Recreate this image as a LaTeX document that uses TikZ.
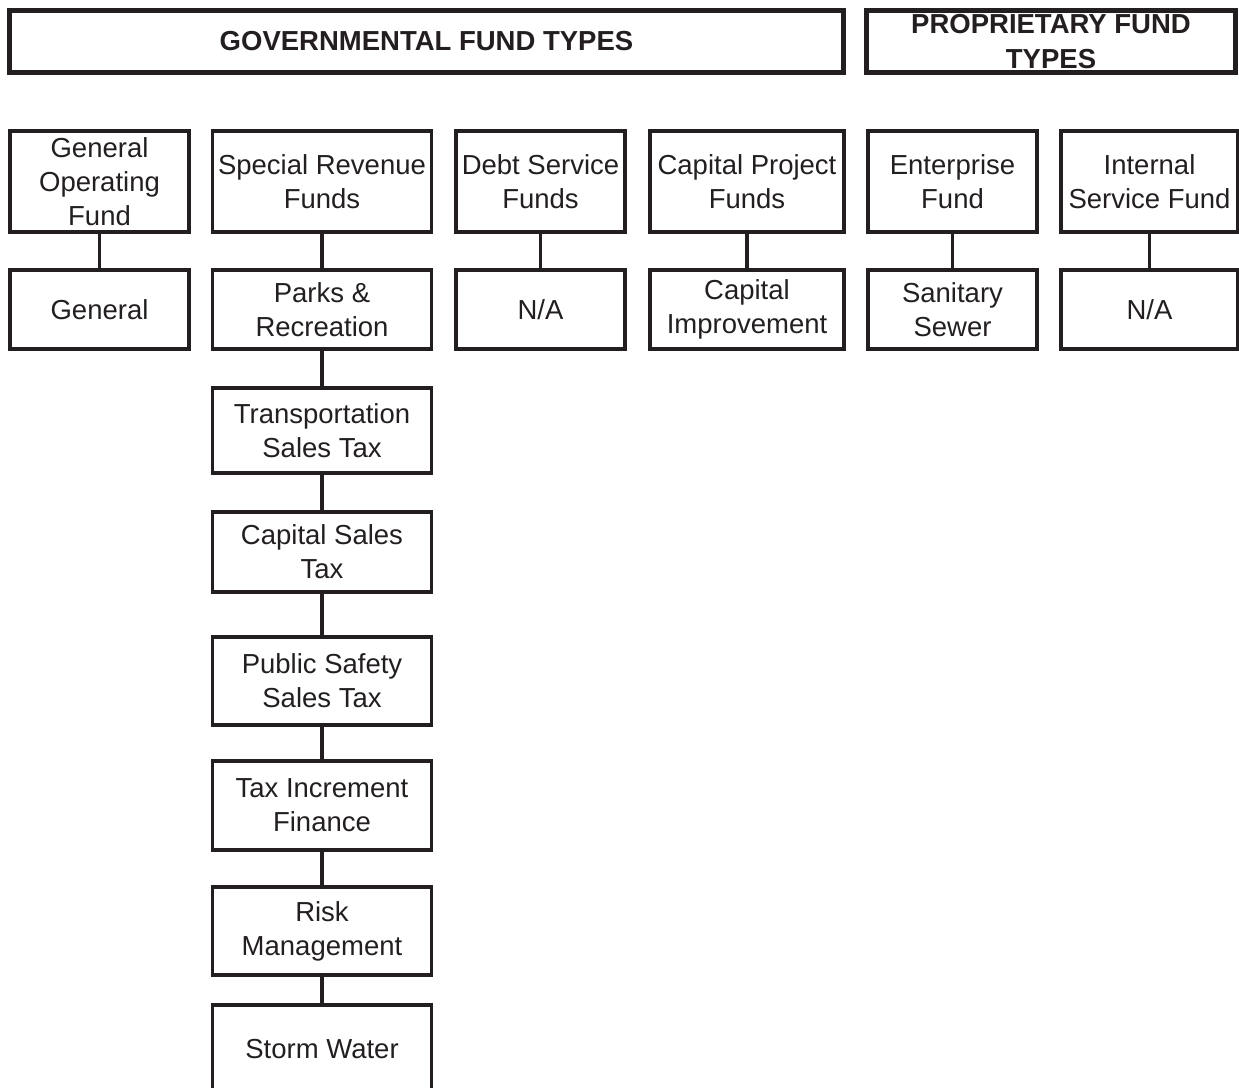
\documentclass[tikz,border=0pt]{standalone}
\usepackage{fontspec}
\setmainfont{Liberation Sans}
\definecolor{ink}{HTML}{231F20}
\begin{document}
\begin{tikzpicture}[x=1pt,y=-1pt,
 box/.style={draw=ink, line width=3.6pt, rectangle, inner sep=0pt, align=center, text=ink, font=\fontsize{27.5}{34}\selectfont},
 head/.style={box, line width=5pt, font=\bfseries\fontsize{27.5}{35}\selectfont},
 link/.style={draw=ink, line width=3.6pt}]
\useasboundingbox (0,0) rectangle (1239,1087);
% headers
\node[head, minimum width=834pt, minimum height=61.5pt] (gov) at (426.5,41.25) {GOVERNMENTAL FUND TYPES};
\node[head, minimum width=369pt, minimum height=61.5pt] (prop) at (1051,41.25) {PROPRIETARY FUND\\TYPES};
% row 1
\node[box, minimum width=179pt, minimum height=101pt] (gof) at (99.5,181.5) {General\\Operating\\Fund};
\node[box, minimum width=219pt, minimum height=101pt] (srf) at (322,181.5) {Special Revenue\\Funds};
\node[box, minimum width=169pt, minimum height=101pt] (dsf) at (540.5,181.5) {Debt Service\\Funds};
\node[box, minimum width=194pt, minimum height=101pt] (cpf) at (747,181.5) {Capital Project\\Funds};
\node[box, minimum width=169pt, minimum height=101pt] (ef) at (952.5,181.5) {Enterprise\\Fund};
\node[box, minimum width=177pt, minimum height=101pt] (isf) at (1149.5,181.5) {Internal\\Service Fund};
% row 2
\node[box, minimum width=179pt, minimum height=79pt] (gen) at (99.5,309.5) {General};
\node[box, minimum width=219pt, minimum height=79pt] (parks) at (322,309.5) {Parks \&\\Recreation};
\node[box, minimum width=169pt, minimum height=79pt] (na1) at (540.5,309.5) {N/A};
\node[box, minimum width=194pt, minimum height=79pt] (capimp) at (747,309.5) {Capital\\Improvement};
\node[box, minimum width=169pt, minimum height=79pt] (sewer) at (952.5,309.5) {Sanitary\\Sewer};
\node[box, minimum width=177pt, minimum height=79pt] (na2) at (1149.5,309.5) {N/A};
% special revenue column
\node[box, minimum width=219pt, minimum height=85pt] (trans) at (322,430.5) {Transportation\\Sales Tax};
\node[box, minimum width=219pt, minimum height=80pt] (capst) at (322,552) {Capital Sales\\Tax};
\node[box, minimum width=219pt, minimum height=88pt] (pubs) at (322,681) {Public Safety\\Sales Tax};
\node[box, minimum width=219pt, minimum height=89pt] (tif) at (322,805.5) {Tax Increment\\Finance};
\node[box, minimum width=219pt, minimum height=88pt] (risk) at (322,931) {Risk\\Management};
\node[box, minimum width=219pt, minimum height=88pt] (storm) at (322,1049) {Storm Water};
% connectors
\draw[link] (gof.south) -- (gen.north);
\draw[link] (srf.south) -- (parks.north);
\draw[link] (dsf.south) -- (na1.north);
\draw[link] (cpf.south) -- (capimp.north);
\draw[link] (ef.south) -- (sewer.north);
\draw[link] (isf.south) -- (na2.north);
\draw[link] (parks.south) -- (trans.north);
\draw[link] (trans.south) -- (capst.north);
\draw[link] (capst.south) -- (pubs.north);
\draw[link] (pubs.south) -- (tif.north);
\draw[link] (tif.south) -- (risk.north);
\draw[link] (risk.south) -- (storm.north);
\end{tikzpicture}
\end{document}
